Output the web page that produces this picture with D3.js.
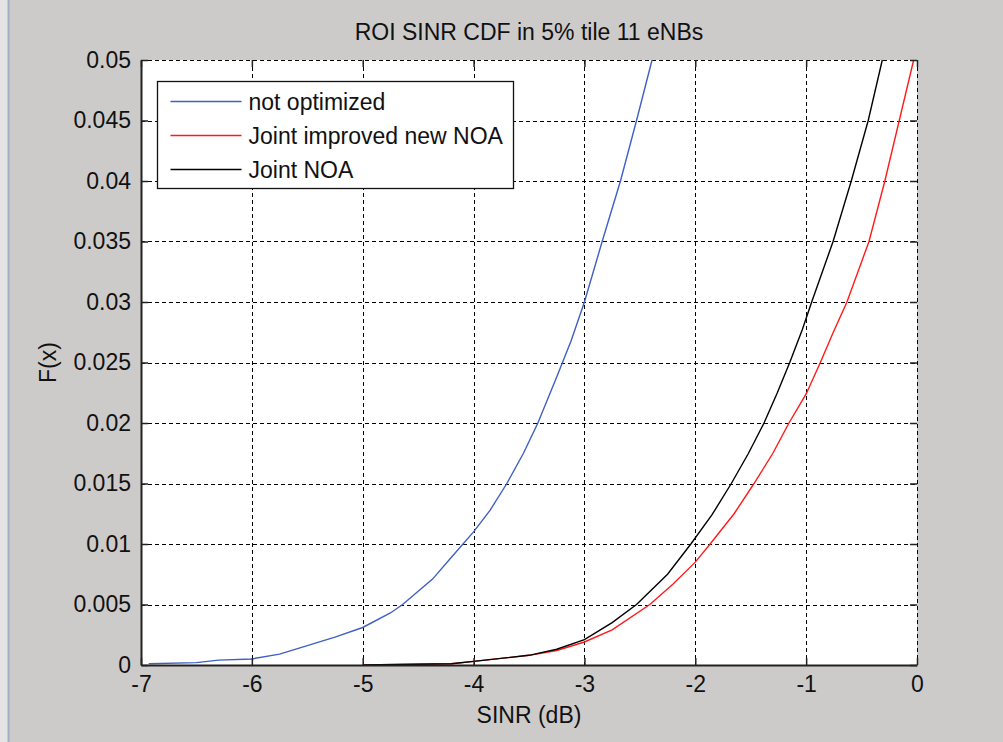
<!DOCTYPE html>
<html>
<head>
<meta charset="utf-8">
<script src="https://cdnjs.cloudflare.com/ajax/libs/d3/7.8.5/d3.min.js"></script>
<style>
  body { margin: 0; background: #cdcbc9; }
  svg { display: block; }
  text { font-family: "Liberation Sans", Arial, sans-serif; fill: #111; }
</style>
</head>
<body>
<div id="chart"></div>
<script>
// series: [SINR dB, F(x)]
var notOptimized = [
  [-6.93, 0.0001], [-6.5, 0.0002], [-6.3, 0.0004], [-6, 0.0005], [-5.75, 0.0009],
  [-5.5, 0.0016], [-5.25, 0.0023], [-5, 0.0031], [-4.75, 0.0043], [-4.64, 0.005],
  [-4.37, 0.0071], [-4.2, 0.0089], [-4, 0.011], [-3.85, 0.0128], [-3.7, 0.015],
  [-3.55, 0.0175], [-3.42, 0.02], [-3.25, 0.0238], [-3.12, 0.0268], [-3, 0.0300],
  [-2.84, 0.035], [-2.675, 0.04], [-2.53, 0.045], [-2.39, 0.05]
];
var jointImproved = [
  [-5, 0], [-4.2, 0.0001], [-4, 0.0003], [-3.5, 0.0008], [-3.25, 0.0012],
  [-3, 0.0019], [-2.75, 0.0029], [-2.41, 0.005], [-2.2, 0.0067], [-2, 0.0085],
  [-1.866, 0.01], [-1.65, 0.0125], [-1.47, 0.015], [-1.3, 0.0175], [-1.155, 0.02],
  [-1, 0.0224], [-0.872, 0.025], [-0.76, 0.0274], [-0.632, 0.03], [-0.433, 0.035],
  [-0.29, 0.04], [-0.16, 0.045], [-0.03, 0.05]
];
var jointNOA = [
  [-5, 0], [-4.2, 0.0001], [-4, 0.0003], [-3.5, 0.0008], [-3.25, 0.0013],
  [-3, 0.0021], [-2.75, 0.0035], [-2.53, 0.005], [-2.25, 0.0075], [-2.04, 0.01],
  [-1.85, 0.0124], [-1.675, 0.015], [-1.52, 0.0175], [-1.38, 0.02], [-1.26, 0.0225],
  [-1.148, 0.025], [-1.035, 0.0277], [-0.95, 0.03], [-0.757, 0.035], [-0.593, 0.04],
  [-0.44, 0.045], [-0.313, 0.05]
];
var seriesNames = ["not optimized", "Joint improved new NOA", "Joint NOA"];
var xTicks = [-7, -6, -5, -4, -3, -2, -1, 0];
var xTickLabels = ["-7", "-6", "-5", "-4", "-3", "-2", "-1", "0"];
var yTicks = [0, 0.005, 0.01, 0.015, 0.02, 0.025, 0.03, 0.035, 0.04, 0.045, 0.05];
var yTickLabels = ["0", "0.005", "0.01", "0.015", "0.02", "0.025", "0.03", "0.035", "0.04", "0.045", "0.05"];

var W = 1003, H = 742;
var margin = {top: 60, right: 86, bottom: 77, left: 141},
    width = W - margin.left - margin.right,
    height = H - margin.top - margin.bottom;

var colors = ["#3f5fc4", "#ff1a1a", "#000000"];
var allSeries = [notOptimized, jointImproved, jointNOA];
var fontSize = "23px";

var svg = d3.select("#chart").append("svg")
  .attr("width", W)
  .attr("height", H);

// window edge
svg.append("rect").attr("x", 0).attr("y", 0).attr("width", 8).attr("height", H).attr("fill", "#e4e4e4");
svg.append("line").attr("x1", 8.5).attr("x2", 8.5).attr("y1", 0).attr("y2", H)
  .attr("stroke", "#9fb0c4").attr("stroke-width", 2);

var g = svg.append("g")
  .attr("transform", "translate(" + margin.left + "," + margin.top + ")");

var x = d3.scaleLinear().domain([-7, 0]).range([0, width]);
var y = d3.scaleLinear().domain([0, 0.05]).range([height, 0]);

g.append("rect")
  .attr("width", width)
  .attr("height", height)
  .attr("fill", "#fff");

// dashed grid
g.selectAll(".vgrid")
  .data(xTicks)
  .enter().append("line")
  .attr("x1", function(d) { return Math.round(x(d)) + 0.5; })
  .attr("x2", function(d) { return Math.round(x(d)) + 0.5; })
  .attr("y1", 0)
  .attr("y2", height)
  .attr("stroke", "#000")
  .attr("stroke-dasharray", "4,3");

g.selectAll(".hgrid")
  .data(yTicks)
  .enter().append("line")
  .attr("y1", function(d) { return Math.round(y(d)) + 0.5; })
  .attr("y2", function(d) { return Math.round(y(d)) + 0.5; })
  .attr("x1", 0)
  .attr("x2", width)
  .attr("stroke", "#000")
  .attr("stroke-dasharray", "4,3");

// curves
var line = d3.line()
  .x(function(d) { return x(d[0]); })
  .y(function(d) { return y(d[1]); });

g.selectAll(".curve")
  .data(allSeries)
  .enter().append("path")
  .attr("class", "curve")
  .attr("fill", "none")
  .attr("stroke", function(d, i) { return colors[i]; })
  .attr("stroke-width", 1.4)
  .attr("d", line);

// axes, ticks inside like matlab
var xAxis = d3.axisBottom(x).tickValues(xTicks)
  .tickFormat(function(d, i) { return xTickLabels[i]; })
  .tickSizeInner(-7).tickSizeOuter(0).tickPadding(11);
var yAxis = d3.axisLeft(y).tickValues(yTicks)
  .tickFormat(function(d, i) { return yTickLabels[i]; })
  .tickSizeInner(-7).tickSizeOuter(0).tickPadding(10);

var gx = g.append("g")
  .attr("transform", "translate(0," + height + ")")
  .call(xAxis);
var gy = g.append("g").call(yAxis);

[gx, gy].forEach(function(a) {
  a.select(".domain").attr("stroke", "#222").attr("stroke-width", 2);
  a.selectAll(".tick line").attr("stroke", "#222").attr("stroke-width", 1.5);
  a.selectAll("text")
    .style("font-family", "Liberation Sans, Arial, sans-serif")
    .style("font-size", fontSize)
    .attr("fill", "#111");
});
gx.selectAll("text").attr("dy", "0.71em");

// mirrored ticks on top / right
g.append("g").call(d3.axisTop(x).tickValues(xTicks).tickSizeInner(-7).tickSizeOuter(0).tickFormat(""))
  .call(function(a) { a.select(".domain").remove(); a.selectAll("line").attr("stroke", "#222").attr("stroke-width", 1.5); });
g.append("g").attr("transform", "translate(" + width + ",0)")
  .call(d3.axisRight(y).tickValues(yTicks).tickSizeInner(-7).tickSizeOuter(0).tickFormat(""))
  .call(function(a) { a.select(".domain").remove(); a.selectAll("line").attr("stroke", "#222").attr("stroke-width", 1.5); });

// title and labels
svg.append("text")
  .attr("x", margin.left + width / 2)
  .attr("y", 40)
  .attr("text-anchor", "middle")
  .style("font-size", fontSize)
  .text("ROI SINR CDF in 5% tile 11 eNBs");

svg.append("text")
  .attr("x", margin.left + width / 2)
  .attr("y", 723)
  .attr("text-anchor", "middle")
  .style("font-size", fontSize)
  .text("SINR (dB)");

svg.append("text")
  .attr("transform", "translate(56," + (margin.top + height / 2) + ") rotate(-90)")
  .attr("text-anchor", "middle")
  .style("font-size", fontSize)
  .text("F(x)");

// legend
var legend = svg.append("g").attr("transform", "translate(157.5,81.5)");
legend.append("rect")
  .attr("width", 356)
  .attr("height", 107)
  .attr("fill", "#fff")
  .attr("stroke", "#111")
  .attr("stroke-width", 1.3);

var rows = legend.selectAll(".row")
  .data(seriesNames)
  .enter().append("g")
  .attr("transform", function(d, i) { return "translate(0," + (20 + i * 34) + ")"; });
rows.append("line")
  .attr("x1", 13).attr("x2", 84)
  .attr("stroke", function(d, i) { return colors[i]; })
  .attr("stroke-width", 1.4);
rows.append("text")
  .attr("x", 91)
  .attr("dy", "0.35em")
  .style("font-size", fontSize)
  .text(function(d) { return d; });
</script>
</body>
</html>
